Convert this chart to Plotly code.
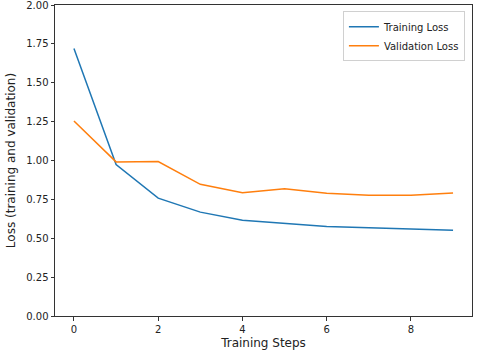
import plotly.graph_objects as go

steps = list(range(10))
training_loss = [1.72, 0.974, 0.758, 0.668, 0.616, 0.595, 0.575, 0.567, 0.560, 0.551]
validation_loss = [1.254, 0.991, 0.993, 0.847, 0.793, 0.819, 0.789, 0.776, 0.776, 0.791]

fig = go.Figure()
fig.add_trace(go.Scatter(x=steps, y=training_loss, mode="lines", name="Training Loss",
                         line=dict(color="#1f77b4", width=1.5)))
fig.add_trace(go.Scatter(x=steps, y=validation_loss, mode="lines", name="Validation Loss",
                         line=dict(color="#ff7f0e", width=1.5)))

axis_style = dict(showgrid=False, zeroline=False, showline=True, linecolor="#333333",
                  linewidth=1, mirror=True, ticks="outside", ticklen=3.5,
                  tickcolor="#333333", tickfont=dict(size=10, color="#222222"),
                  automargin=False, ticklabeloverflow="allow")

fig.update_layout(
    width=480, height=354,
    margin=dict(l=55, r=8, t=5, b=38),
    plot_bgcolor="white", paper_bgcolor="white",
    font=dict(family="DejaVu Sans", size=10, color="#222222"),
    xaxis=dict(range=[-0.45, 9.45], tickvals=[0, 2, 4, 6, 8],
               title=dict(text="Training Steps", standoff=5), **axis_style),
    yaxis=dict(range=[0, 2], tickvals=[0, 0.25, 0.5, 0.75, 1.0, 1.25, 1.5, 1.75, 2.0],
               tickformat=".2f", title=dict(text="Loss (training and validation)", standoff=8),
               **axis_style),
    legend=dict(x=0.983, y=0.98, xanchor="right", yanchor="top",
                bordercolor="#d0d0d0", borderwidth=1, bgcolor="rgba(255,255,255,0.8)",
                font=dict(size=10), tracegroupgap=0, itemwidth=30),
    showlegend=True,
)

# the page body has a default 8px margin; drop it so the figure sits at the corner
fig.write_html("out.html", config={"displayModeBar": False},
               post_script="document.body.style.margin='0';")
